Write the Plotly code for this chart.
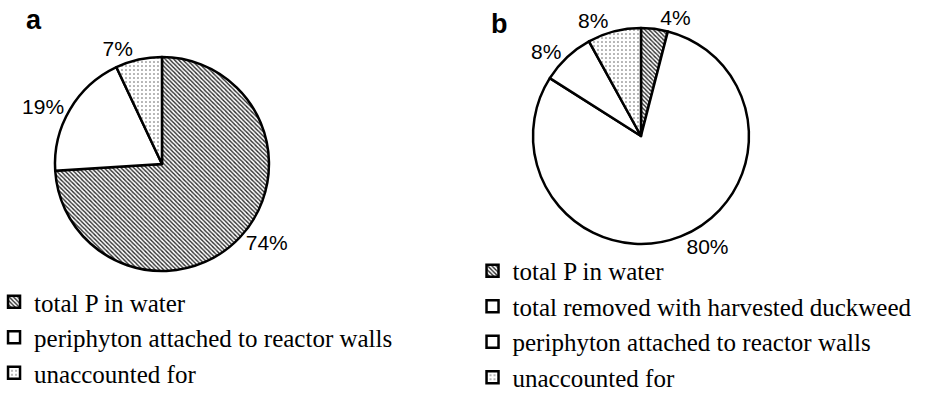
import plotly.graph_objects as go

# Panel a
labels_a = ["total P in water", "periphyton attached to reactor walls", "unaccounted for"]
values_a = [74, 19, 7]
patterns_a = ["\\", "", "."]

# Panel b
labels_b = ["total P in water", "total removed with harvested duckweed",
            "periphyton attached to reactor walls", "unaccounted for"]
values_b = [4, 80, 8, 8]
patterns_b = ["\\", "", "", "."]

panel_titles = ["a", "b"]

SANS = "Liberation Sans"
SERIF = "Liberation Serif"


def pie(labels, values, pats, domain, legend):
    sizes = [3 if p == "\\" else 4 for p in pats]
    solid = [0.45 if p == "\\" else 0.12 for p in pats]
    fg = ["#2a2a2a" if p == "\\" else "#555555" for p in pats]
    return go.Pie(
        labels=labels, values=values, sort=False, direction="clockwise", rotation=0,
        domain=domain, legend=legend,
        textinfo="percent", textposition="outside",
        textfont=dict(family=SANS, size=21, color="black"),
        marker=dict(colors=["white"] * len(values),
                    line=dict(color="black", width=2.5),
                    pattern=dict(shape=pats, fgcolor=fg, bgcolor="white",
                                 size=sizes, solidity=solid)),
        hoverinfo="label+percent",
    )


# labels of panel b get an invisible suffix so that both legends list all items
labels_b_unique = [lab + "\u200b" for lab in labels_b]

fig = go.Figure()
fig.add_trace(pie(labels_a, values_a, patterns_a,
                  dict(x=[0.059, 0.2886], y=[0.3517, 0.8636]), "legend"))
fig.add_trace(pie(labels_b_unique, values_b, patterns_b,
                  dict(x=[0.5719, 0.8036], y=[0.4163, 0.9330]), "legend2"))

leg_common = dict(bgcolor="rgba(0,0,0,0)", borderwidth=0,
                  xanchor="left", yanchor="top", itemclick=False, itemdoubleclick=False)

fig.update_layout(
    width=932, height=418,
    margin=dict(l=0, r=0, t=0, b=0, autoexpand=False),
    paper_bgcolor="white", plot_bgcolor="white",
    font=dict(family=SERIF, size=25, color="black"),
    showlegend=True,
    legend=dict(x=-0.0064, y=0.3325, font=dict(family=SERIF, size=25, color="black"), **leg_common),
    legend2=dict(x=0.507, y=0.4067, font=dict(family=SERIF, size=25, color="black"), **leg_common),
    annotations=[
        dict(text=panel_titles[0], x=34 / 932, y=1 - 20.5 / 418, xref="paper", yref="paper",
             xanchor="center", yanchor="middle", showarrow=False,
             font=dict(family=SANS, size=27, color="black", weight="bold")),
        dict(text=panel_titles[1], x=500 / 932, y=1 - 24 / 418, xref="paper", yref="paper",
             xanchor="center", yanchor="middle", showarrow=False,
             font=dict(family=SANS, size=27, color="black", weight="bold")),
    ],
)

fig.write_html("out.html", config={"displayModeBar": False},
               post_script="document.body.style.margin='0px';")
